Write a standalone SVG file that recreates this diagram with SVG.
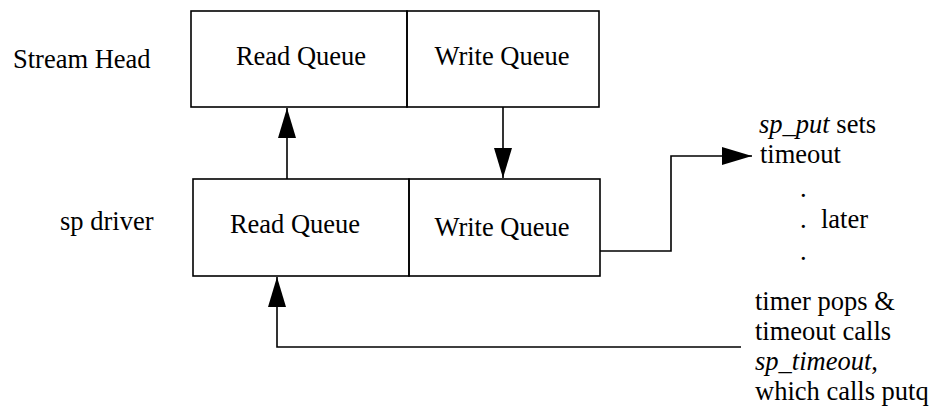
<svg xmlns="http://www.w3.org/2000/svg" width="938" height="413" viewBox="0 0 938 413">
<style>
text{font-family:'Liberation Serif','Times New Roman','DejaVu Serif',serif;font-size:26.5px;fill:#000}
.box{fill:none;stroke:#000;stroke-width:1.6}
.c{fill:none;stroke:#000;stroke-width:1.6}
.m{text-anchor:middle}
.i{font-style:italic}
</style>
<defs>
<marker id="ah" markerUnits="userSpaceOnUse" markerWidth="31" markerHeight="18" refX="30" refY="9" orient="auto">
<path d="M0,0 L30,9 L0,18 Z" fill="#000"/>
</marker>
</defs>
<g font-family="Liberation Serif, Times New Roman, serif">
<text x="13" y="68">Stream Head</text>
<text x="60" y="230">sp driver</text>
<g id="sh-read">
<rect class="box" x="191" y="11" width="216" height="96"/>
<text class="m" x="301" y="65">Read Queue</text>
</g>
<g id="sh-write">
<rect class="box" x="407" y="11" width="192" height="96"/>
<text class="m" x="502" y="65">Write Queue</text>
</g>
<g id="sp-read">
<rect class="box" x="193" y="179" width="216" height="97"/>
<text class="m" x="295" y="233">Read Queue</text>
</g>
<g id="sp-write">
<rect class="box" x="409" y="179" width="191" height="97"/>
<text class="m" x="502" y="236">Write Queue</text>
</g>
<g id="connectors">
<path class="c" d="M287,179 V108" marker-end="url(#ah)"/>
<path class="c" d="M503,107 V178" marker-end="url(#ah)"/>
<path class="c" d="M600,251 H671 V156 H752" marker-end="url(#ah)"/>
<path class="c" d="M741,347 H277 V277" marker-end="url(#ah)"/>
</g>
<g id="notes">
<text x="759" y="133"><tspan class="i">sp_put</tspan> sets</text>
<text x="760" y="163">timeout</text>
<text x="800" y="197">.</text>
<text x="800" y="228">.</text>
<text x="821" y="228">later</text>
<text x="800" y="260">.</text>
<text x="755" y="310">timer pops &amp;</text>
<text x="755" y="340">timeout calls</text>
<text x="755" y="370"><tspan class="i">sp_timeout</tspan>,</text>
<text x="755" y="400">which calls putq</text>
</g>
</g>
</svg>
